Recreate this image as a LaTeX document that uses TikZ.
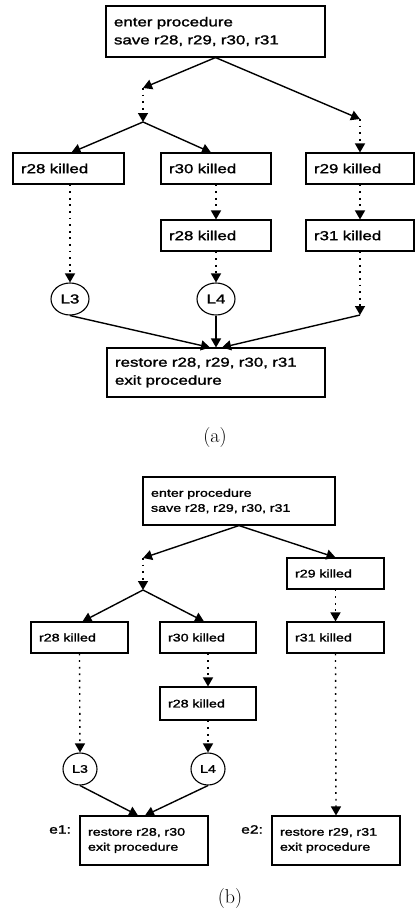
\documentclass[tikz,border=0pt]{standalone}
\usepackage{fontspec}
\newfontfamily\boxfont[FakeStretch=1.3,FakeBold=1.6]{Liberation Sans}
\usetikzlibrary{arrows.meta,shapes.geometric}

\begin{document}
\begin{tikzpicture}[x=1pt,y=-1pt]
\tikzstyle{blk} = [draw, line width=1.1pt, align=left, inner xsep=8pt, inner ysep=0pt]
\tikzstyle{lbl} = [draw, ellipse, line width=1.1pt, inner sep=0pt]
\tikzstyle{arr} = [-{Triangle[length=9pt,width=10pt]}, line width=1.4pt]
\tikzstyle{darr} = [arr, dash pattern=on 1.8pt off 4.8pt]
\tikzstyle{figcap} = [font=\fontsize{20}{24}\selectfont]
\useasboundingbox (0,0) rectangle (415,918);

% (a)
\begin{scope}[font=\boxfont\fontsize{13}{18}\selectfont]
\node [blk, text width=203pt, minimum height=51pt] (a) at (215.5, 31.5) {enter procedure\\save r28, r29, r30, r31};
\node [blk, text width=95pt, minimum height=31pt] (b) at (68.5, 168.5) {r28 killed};
\node [blk, text width=94pt, minimum height=31pt] (c) at (216, 168.5) {r30 killed};
\node [blk, text width=92pt, minimum height=31pt] (d) at (360, 168.5) {r29 killed};
\node [blk, text width=94pt, minimum height=31pt] (e) at (216, 235.5) {r28 killed};
\node [blk, text width=92pt, minimum height=31pt] (f) at (360, 235.5) {r31 killed};
\node [lbl, minimum width=38pt, minimum height=32pt] (l3) at (70, 299) {L3};
\node [lbl, minimum width=38pt, minimum height=32pt] (l4) at (216, 299) {L4};
\node [blk, text width=202pt, minimum height=49pt] (g) at (216, 372.5) {restore r28, r29, r30, r31\\exit procedure};
\end{scope}
\coordinate (j1) at (143, 88);
\coordinate (j2) at (143, 122);
\coordinate (j3) at (360, 119);
\coordinate (j4) at (360, 315);

\draw [arr] (a.south) -- (j1);
\draw [darr] (j1) -- (j2);
\draw [arr] (j2) -- ([xshift=3pt]b.north);
\draw [arr] (j2) -- ([xshift=-5pt]c.north);
\draw [arr] (a.south) -- (j3);
\draw [darr] (j3) -- (d.north);
\draw [darr] (c.south) -- (e.north);
\draw [darr] (d.south) -- (f.north);
\draw [darr] ([xshift=1.5pt]b.south) -- (l3.north);
\draw [darr] (e.south) -- (l4.north);
\draw [darr] (f.south) -- (j4);
\draw [arr] (l3.south) -- ([xshift=-6pt]g.north);
\draw [arr] (l4.south) -- (g.north);
\draw [arr] (j4) -- ([xshift=6pt]g.north);

\node [figcap] (ca) at (215, 438) {(a)};

% (b)
\begin{scope}[font=\boxfont\fontsize{11}{15}\selectfont]
\node [blk, text width=176pt, minimum height=48pt] (ab) at (239, 501) {enter procedure\\save r28, r29, r30, r31};
\node [blk, text width=81pt, minimum height=31pt] (db) at (335.5, 573.5) {r29 killed};
\node [blk, text width=81pt, minimum height=31pt] (bb) at (79.5, 637.5) {r28 killed};
\node [blk, text width=80pt, minimum height=31pt] (cb) at (208, 637.5) {r30 killed};
\node [blk, text width=81pt, minimum height=31pt] (fb) at (335.5, 637.5) {r31 killed};
\node [blk, text width=80pt, minimum height=33pt] (eb) at (208, 703.5) {r28 killed};
\node [lbl, minimum width=34pt, minimum height=32pt] (l3b) at (80, 769) {L3};
\node [lbl, minimum width=34pt, minimum height=32pt] (l4b) at (208, 769) {L4};
\node [blk, text width=112pt, minimum height=49pt] (gb) at (144, 840.5) {restore r28, r30\\exit procedure};
\node [blk, text width=112pt, minimum height=49pt] (hb) at (336, 840.5) {restore r29, r31\\exit procedure};
\node [anchor=east, font=\boxfont\fontsize{12}{15}\selectfont] (gl) at ([xshift=-5pt, yshift=-14pt]gb.north west) {e1:};
\node [anchor=east, font=\boxfont\fontsize{12}{15}\selectfont] (hl) at ([xshift=-5pt, yshift=-14pt]hb.north west) {e2:};
\end{scope}
\coordinate (j1b) at (143, 558);
\coordinate (j2b) at (143, 590);

\draw [arr] (ab.south) -- (j1b);
\draw [darr] (j1b) -- (j2b);
\draw [arr] (j2b) -- ([xshift=3pt]bb.north);
\draw [arr] (j2b) -- ([xshift=-4pt]cb.north);
\draw [arr] (ab.south) -- (db.north);
\draw [darr] (db.south) -- (fb.north);
\draw [darr] (cb.south) -- (eb.north);
\draw [darr] (bb.south) -- (l3b.north);
\draw [darr] (eb.south) -- (l4b.north);
\draw [darr] (fb.south) -- (hb.north);
\draw [arr] (l3b.south) -- ([xshift=-6pt]gb.north);
\draw [arr] (l4b.south) -- ([xshift=1pt]gb.north);

\node [figcap] (cb2) at (230, 898) {(b)};
\end{tikzpicture}
\end{document}
